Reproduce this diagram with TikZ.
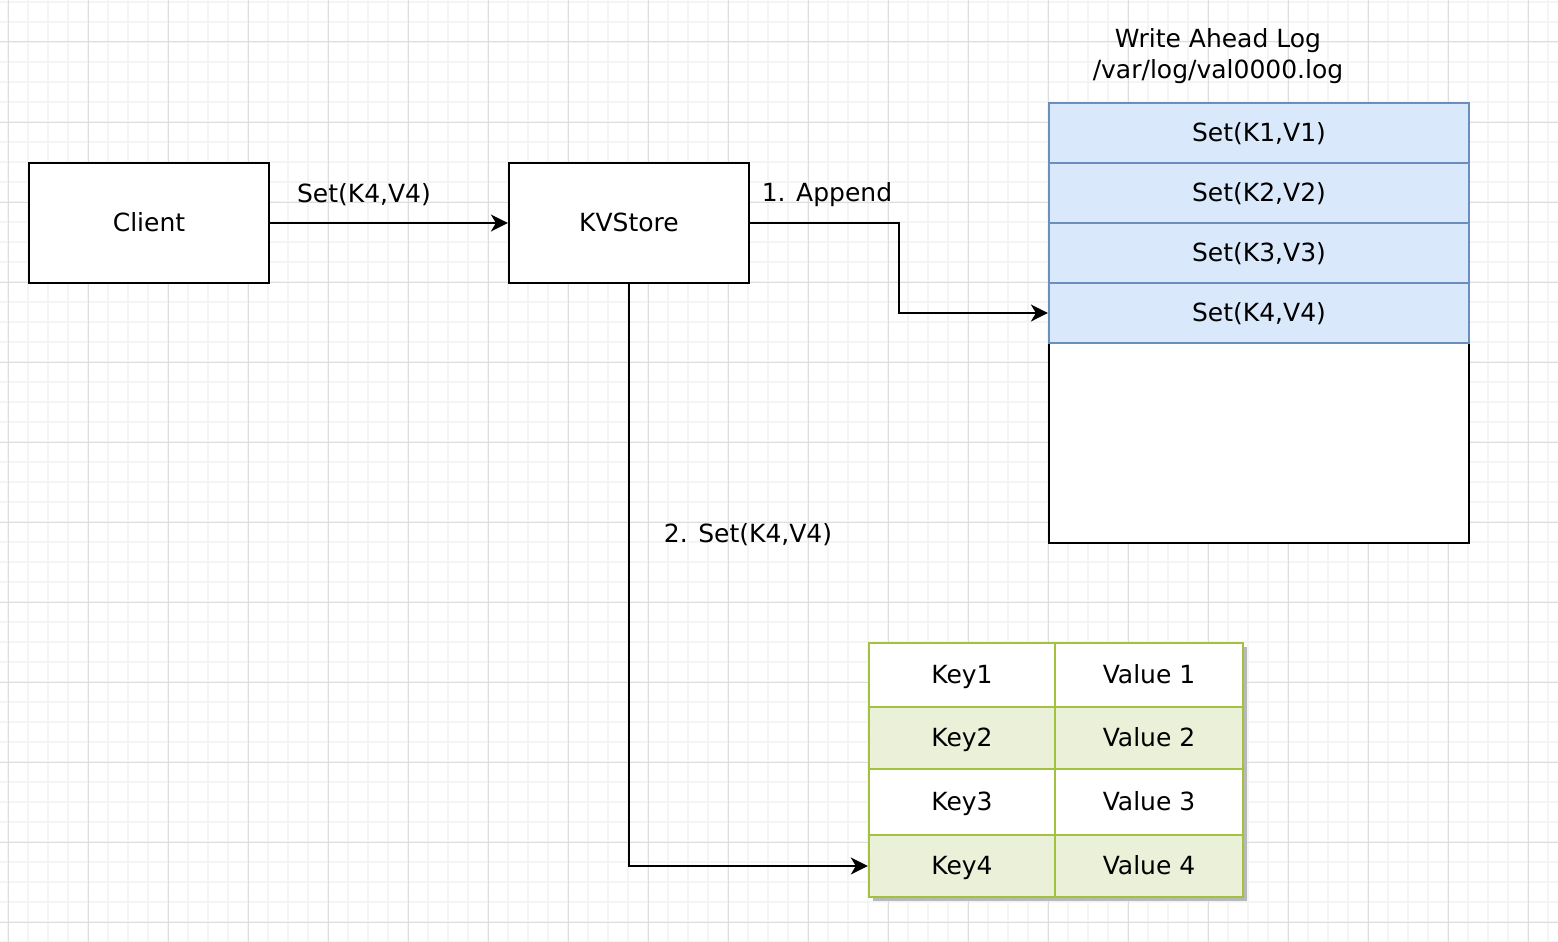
\documentclass[tikz,border=0pt]{standalone}
\usepackage{fontspec}
\setmainfont{DejaVu Sans}
\usetikzlibrary{arrows.meta}
\definecolor{gridminor}{HTML}{F4F4F4}
\definecolor{gridmajor}{HTML}{DDDDDD}
\definecolor{walfill}{HTML}{DAE8FC}
\definecolor{walline}{HTML}{6C8EBF}
\definecolor{tabline}{HTML}{A2C13F}
\definecolor{tabfill}{HTML}{EBF1D9}
\definecolor{shadowgrey}{HTML}{B8B8B8}
\tikzset{
  txt/.style={font=\fontsize{25}{31}\selectfont, text=black},
  ctxt/.style={txt, text height=17pt, text depth=0pt},
  plainbox/.style={draw=black, line width=2.2pt, fill=white, minimum width=240pt, minimum height=120pt, inner sep=0pt, ctxt},
  walrow/.style={draw=walline, line width=2.2pt, fill=walfill, minimum width=420pt, minimum height=60pt, inner sep=0pt, ctxt},
  walempty/.style={draw=black, line width=2.2pt, fill=white, minimum width=420pt, minimum height=200pt, inner sep=0pt},
  cell/.style={draw=tabline, line width=2.4pt, inner sep=0pt, ctxt},
  arr/.style={draw=black, line width=1.8pt, -{Stealth[length=17pt,width=17pt,inset=5pt]}},
  lbl/.style={txt, inner sep=0pt}
}
\begin{document}
\begin{tikzpicture}[x=1pt,y=-1pt]
\useasboundingbox (0,0) rectangle (1558,942);
\fill[white] (0,0) rectangle (1558,942);
% grid
\foreach \x in {8,28,...,1558} \draw[gridminor, line width=1.3pt] (\x,0) -- (\x,942);
\foreach \y in {2,22,...,942} \draw[gridminor, line width=1.3pt] (0,\y) -- (1558,\y);
\foreach \x in {8,88,...,1558} \draw[gridmajor, line width=1pt] (\x,0) -- (\x,942);
\foreach \y in {42,122,...,942} \draw[gridmajor, line width=1pt] (0,\y) -- (1558,\y);

% boxes
\node[plainbox] (client) at (149,223) {Client};
\node[plainbox] (kv) at (629,223) {KVStore};

% WAL
\node[txt, align=center, inner sep=0pt] (title) at (1218,56) {Write Ahead Log\\/var/log/val0000.log};
\node[walempty] (wempty) at (1259,443) {};
\node[walrow] (w1) at (1259,133) {Set(K1,V1)};
\node[walrow] (w2) at (1259,193) {Set(K2,V2)};
\node[walrow] (w3) at (1259,253) {Set(K3,V3)};
\node[walrow] (w4) at (1259,313) {Set(K4,V4)};

% table
\fill[shadowgrey] (873,647) rectangle (1247,901);
\node[cell, fill=white, minimum width=186pt, minimum height=64pt] (k1) at (962,675) {Key1};
\node[cell, fill=white, minimum width=188pt, minimum height=64pt] (v1) at (1149,675) {Value 1};
\node[cell, fill=tabfill, minimum width=186pt, minimum height=62pt] (k2) at (962,738) {Key2};
\node[cell, fill=tabfill, minimum width=188pt, minimum height=62pt] (v2) at (1149,738) {Value 2};
\node[cell, fill=white, minimum width=186pt, minimum height=66pt] (k3) at (962,802) {Key3};
\node[cell, fill=white, minimum width=188pt, minimum height=66pt] (v3) at (1149,802) {Value 3};
\node[cell, fill=tabfill, minimum width=186pt, minimum height=62pt] (k4) at (962,866) {Key4};
\node[cell, fill=tabfill, minimum width=188pt, minimum height=62pt] (v4) at (1149,866) {Value 4};

% connectors
\coordinate (bend) at (899,0);
\draw[arr] (client.east) -- (kv.west);
\draw[arr] (kv.east) -| (bend |- w4.west) -- (w4.west);
\draw[arr] (kv.south) |- (k4.west);

% labels
\node[lbl] (l1) at (364,195) {Set(K4,V4)};
\node[lbl] (l2) at (827,195) {1. Append};
\node[lbl] (l3) at (748,535) {2. Set(K4,V4)};
\end{tikzpicture}
\end{document}
